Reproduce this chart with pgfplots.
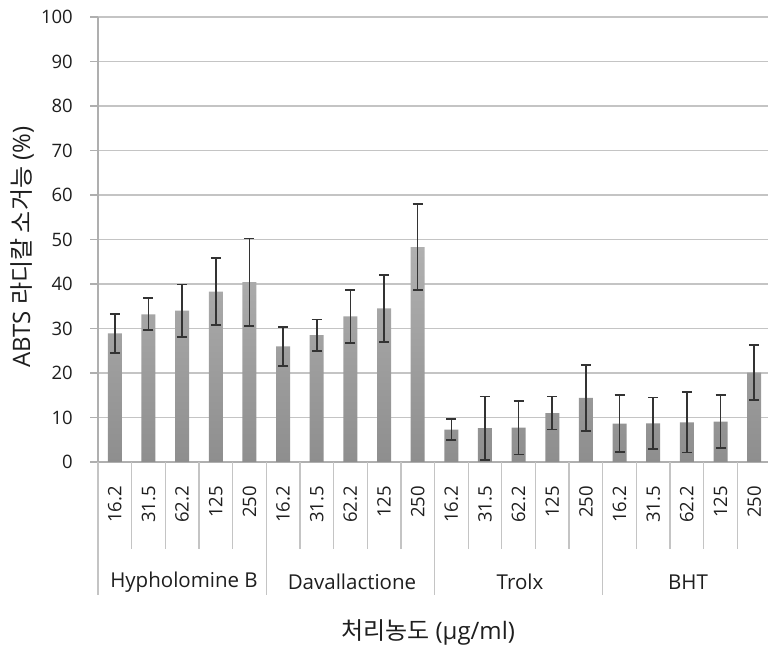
\documentclass[border=0pt]{standalone}
\usepackage{fontspec}
\setmainfont{Open Sans}
\newfontfamily\kr{Noto Sans CJK KR}
\usepackage{pgfplots}
\usepackage{pgfplotstable}
\pgfplotsset{compat=1.18}
\definecolor{bartop}{RGB}{176,176,176}
\definecolor{barbot}{RGB}{142,142,142}
\definecolor{gridc}{RGB}{196,196,196}
\definecolor{axc}{RGB}{175,175,175}
\definecolor{txt}{RGB}{30,30,30}
\pgfplotstableread{
x y err
0 28.9 4.4
1 33.2 3.6
2 34.0 5.9
3 38.3 7.5
4 40.4 9.8
5 26.0 4.4
6 28.5 3.5
7 32.7 5.9
8 34.5 7.5
9 48.3 9.7
10 7.3 2.4
11 7.6 7.1
12 7.7 6.0
13 11.0 3.7
14 14.4 7.4
15 8.6 6.4
16 8.7 5.8
17 8.9 6.8
18 9.1 5.9
19 20.1 6.2
}\data
\begin{document}
\begin{tikzpicture}
\useasboundingbox (0,0) rectangle (768pt,650pt);
\begin{axis}[
  at={(98pt,188pt)}, anchor=south west,
  scale only axis, width=673pt, height=445pt,
  xmin=-0.5, xmax=19.5, ymin=0, ymax=100,
  clip=false,
  axis lines=left,
  axis line style={axc, line width=1.3pt, -},
  ytick={0,10,...,100},
  ymajorgrids, grid style={gridc, line width=1.5pt},
  y tick style={axc, line width=1.3pt},
  tick align=outside, major tick length=8pt,
  xtick={0,...,19},
  xticklabels={16.2,31.5,62.2,125,250,16.2,31.5,62.2,125,250,16.2,31.5,62.2,125,250,16.2,31.5,62.2,125,250},
  x tick style={draw=none},
  xticklabel style={rotate=90, anchor=east, inner sep=0pt},
  xticklabel shift=16pt,
  yticklabel style={inner sep=0pt, xshift=-17pt},
  tick label style={font=\fontsize{18.5}{20}\selectfont, text=txt},
  /pgf/number format/assume math mode=true,
]
\addplot[ybar, bar width=14pt, draw=none, top color=bartop, bottom color=barbot,
  error bars/.cd, y dir=both, y explicit,
  error bar style={line width=1.6pt, color=black!80},
  error mark options={rotate=90, mark size=5pt, line width=1.6pt, color=black!80}]
  table[x=x, y=y, y error=err] {\data};
\pgfplotsinvokeforeach{1,2,3,4,6,7,8,9,11,12,13,14,16,17,18,19}{
  \draw[gridc, line width=1.3pt] (axis cs:#1-0.5,0) -- ([yshift=-87pt]axis cs:#1-0.5,0);
}
\pgfplotsinvokeforeach{0,5,10,15,20}{
  \draw[gridc, line width=1.3pt] (axis cs:#1-0.5,0) -- ([yshift=-133pt]axis cs:#1-0.5,0);
}
\end{axis}
\begin{scope}[every node/.style={text=txt}]
\node[font=\fontsize{20.5}{22}\selectfont] at (184pt,68pt) {Hypholomine B};
\node[font=\fontsize{20.5}{22}\selectfont] at (352pt,68pt) {Davallactione};
\node[font=\fontsize{20.5}{22}\selectfont] at (520pt,68pt) {Trolx};
\node[font=\fontsize{20.5}{22}\selectfont] at (688pt,68pt) {BHT};
\node[font=\fontsize{24}{26}\selectfont] at (428pt,18pt) {{\kr 처리농도} (µg/ml)};
\node[font=\fontsize{24}{26}\selectfont, rotate=90] at (22pt,403pt) {ABTS {\kr 라디칼 소거능} (\%)};
\end{scope}
\end{tikzpicture}
\end{document}
